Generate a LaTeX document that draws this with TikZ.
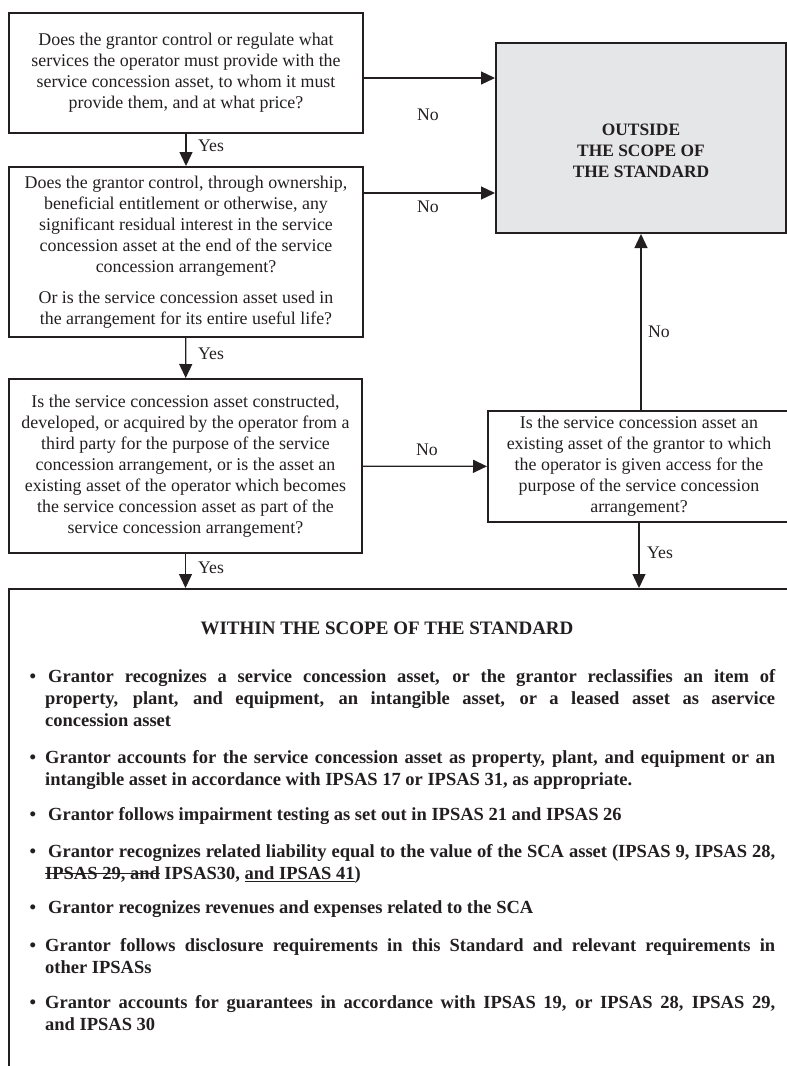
\documentclass[tikz,border=0pt]{standalone}
\usepackage{fontspec}
\setmainfont{Liberation Serif}
\usetikzlibrary{arrows.meta}
\definecolor{ink}{RGB}{35,31,32}
\definecolor{shade}{RGB}{229,230,231}
\newsavebox\mytmpbox
\newcommand\strk[1]{\sbox\mytmpbox{#1}\rlap{\rule[0.27em]{\wd\mytmpbox}{1pt}}\usebox\mytmpbox}
\newcommand\undl[1]{\sbox\mytmpbox{#1}\rlap{\rule[-2.8pt]{\wd\mytmpbox}{1pt}}\usebox\mytmpbox}
\tikzset{
  qbox/.style={draw=ink, line width=2pt, text=ink, align=center, inner sep=0pt,
    font=\fontsize{17.9}{21}\selectfont},
  arr/.style={draw=ink, line width=1.3pt, -{Triangle[length=14pt,width=13pt]}},
  lab/.style={text=ink, inner sep=0pt, font=\fontsize{17.7}{21}\selectfont},
  bul/.style={text=ink, inner sep=0pt, text width=730pt, align=justify,
    font=\fontsize{18.5}{22.3}\selectfont\bfseries},
}
\begin{document}
\begin{tikzpicture}[x=1pt,y=-1pt]
\useasboundingbox (0,0) rectangle (787,1066);
\clip (0,0) rectangle (787,1066);

% question boxes
\node[qbox, minimum width=354pt, minimum height=120pt] (q1) at (186,73)
  {Does the grantor control or regulate what\\
   services the operator must provide with the\\
   service concession asset, to whom it must\\
   provide them, and at what price?};
\node[qbox, minimum width=354pt, minimum height=170pt] (q2) at (186,252)
  {Does the grantor control, through ownership,\\
   beneficial entitlement or otherwise, any\\
   significant residual interest in the service\\
   concession asset at the end of the service\\
   concession arrangement?\\[10pt]
   Or is the service concession asset used in\\
   the arrangement for its entire useful life?};
\node[qbox, minimum width=353pt, minimum height=174pt] (q3) at (185.5,466)
  {Is the service concession asset constructed,\\
   developed, or acquired by the operator from a\\
   third party for the purpose of the service\\
   concession arrangement, or is the asset an\\
   existing asset of the operator which becomes\\
   the service concession asset as part of the\\
   service concession arrangement?};
\node[qbox, minimum width=302pt, minimum height=111pt] (q4) at (639,466.5)
  {Is the service concession asset an\\
   existing asset of the grantor to which\\
   the operator is given access for the\\
   purpose of the service concession\\
   arrangement?};

% outside box
\node[qbox, fill=shade, minimum width=290pt, minimum height=190pt] (out) at (641,138) {};
\node[lab, align=center, font=\fontsize{17.4}{21}\selectfont\bfseries] (outtext) at (641,151)
  {OUTSIDE\\THE SCOPE OF\\THE STANDARD};

% within box
\node[qbox, minimum width=791pt, minimum height=491pt] (bot) at (404.5,834.5) {};
\node[lab, anchor=base, font=\fontsize{19}{22}\selectfont\bfseries] (head) at (387,634)
  {WITHIN THE SCOPE OF THE STANDARD};

\node[bul, anchor=base west] (b1) at (45,682)
  {\noindent\llap{\textbullet\hspace{9pt}}\hspace*{3pt}Grantor recognizes a service concession asset, or the grantor reclassifies an item of\linebreak
   property, plant, and equipment, an intangible asset, or a leased asset as aservice\linebreak
   concession asset};
\node[bul, anchor=base west] (b2) at (45,763)
  {\noindent\llap{\textbullet\hspace{9pt}}Grantor accounts for the service concession asset as property, plant, and equipment or an\linebreak
   intangible asset in accordance with IPSAS 17 or IPSAS 31, as appropriate.};
\node[bul, anchor=base west] (b3) at (45,820)
  {\noindent\llap{\textbullet\hspace{9pt}}\hspace*{3pt}Grantor follows impairment testing as set out in IPSAS 21 and IPSAS 26};
\node[bul, anchor=base west] (b4) at (45,857)
  {\noindent\llap{\textbullet\hspace{9pt}}\hspace*{3pt}Grantor recognizes related liability equal to the value of the SCA asset (IPSAS 9, IPSAS 28,\linebreak
   \strk{IPSAS 29, and} IPSAS30, \undl{and IPSAS 41})};
\node[bul, anchor=base west] (b5) at (45,913)
  {\noindent\llap{\textbullet\hspace{9pt}}\hspace*{3pt}Grantor recognizes revenues and expenses related to the SCA};
\node[bul, anchor=base west] (b6) at (45,951)
  {\noindent\llap{\textbullet\hspace{9pt}}Grantor follows disclosure requirements in this Standard and relevant requirements in\linebreak
   other IPSASs};
\node[bul, anchor=base west] (b7) at (45,1008)
  {\noindent\llap{\textbullet\hspace{9pt}}Grantor accounts for guarantees in accordance with IPSAS 19, or IPSAS 28, IPSAS 29,\linebreak
   and IPSAS 30};

% connectors
\draw[arr] (q1) -- (q2);
\draw[arr] (q2) -- (q3);
\draw[arr] (q3.south) -- (q3.south |- bot.north);
\draw[arr] (q4.south) -- (q4.south |- bot.north);
\draw[arr] (q3) -- (q4);
\draw[arr] (q4.north -| out.south) -- (out.south);
\coordinate (n1) at ([yshift=-5pt]q1.east);
\coordinate (n2) at ([yshift=59pt]q2.east);
\draw[arr] (n1) -- (n1 -| out.west);
\draw[arr] (n2) -- (n2 -| out.west);

% labels
\node[lab, anchor=west] (y1) at (198,146) {Yes};
\node[lab, anchor=west] (y2) at (198,354) {Yes};
\node[lab, anchor=west] (y3) at (198,568) {Yes};
\node[lab, anchor=west] (y4) at (647,553) {Yes};
\node[lab] (no1) at (428,115) {No};
\node[lab] (no2) at (428,207) {No};
\node[lab] (no3) at (427,450) {No};
\node[lab, anchor=west] (no4) at (648,332) {No};
\end{tikzpicture}
\end{document}
